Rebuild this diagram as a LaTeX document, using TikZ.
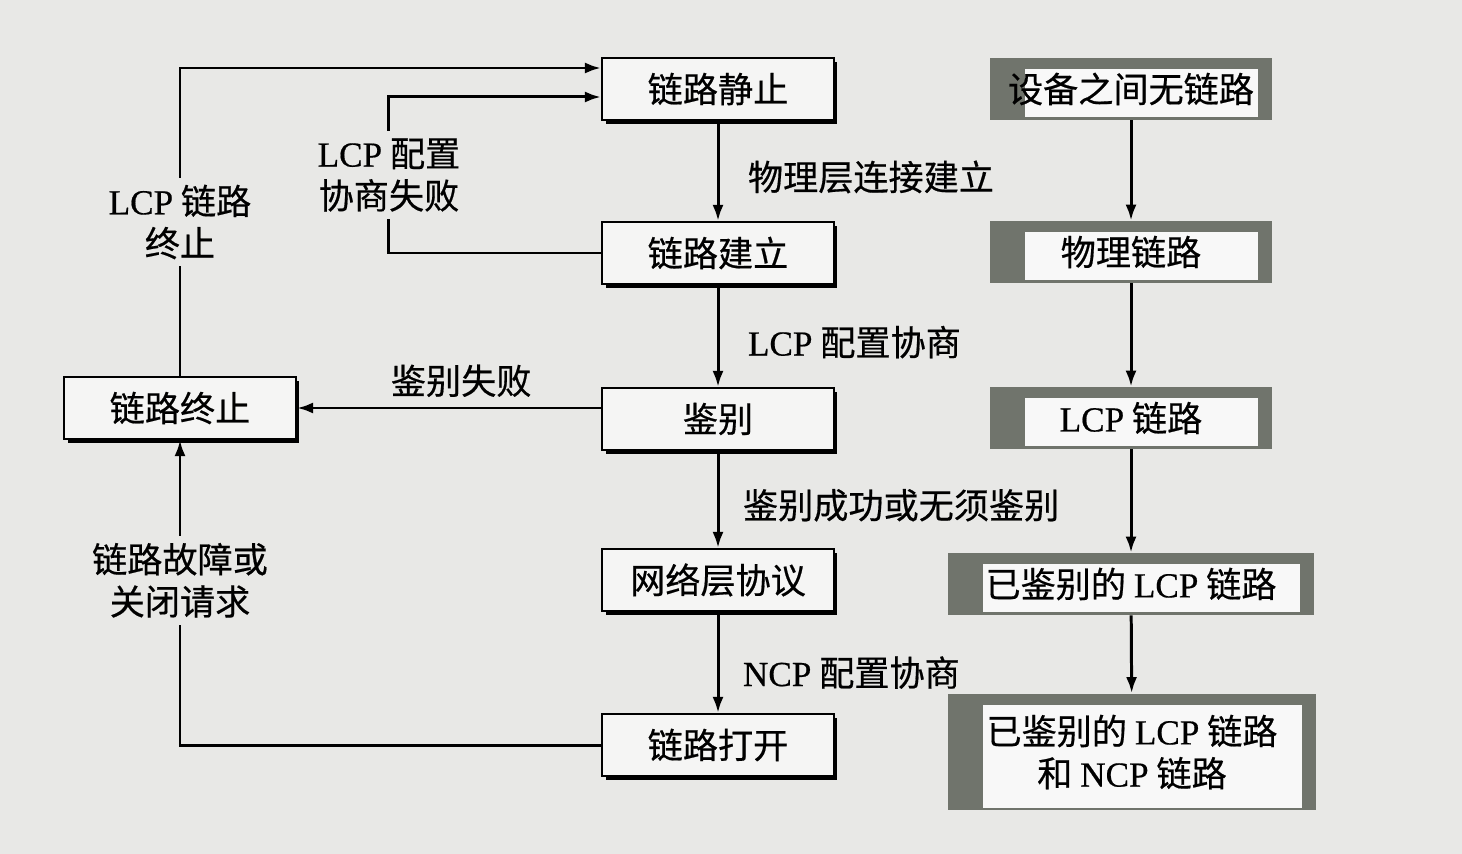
\documentclass[tikz,border=0pt]{standalone}
\usepackage{fontspec}
\setmainfont{Liberation Serif}[FakeBold=0.5]
\newfontfamily\cjk{Noto Sans CJK SC}[FakeBold=0.5]
\usepackage{xcolor}
\usepackage{tikz}
\usetikzlibrary{arrows.meta,calc,shadows}
\definecolor{GrisFondo}{RGB}{232,232,230}
\definecolor{GrisTrama}{RGB}{112,116,108}
\newcommand{\letra}{\cjk\fontsize{20}{24}\selectfont}
\newcommand{\rmtxt}[1]{{\rmfamily #1}}

\begin{document}
\begin{tikzpicture}[x=0.02cm,y=-0.02cm,>={Latex[length=3.2mm,width=2.2mm]},
  txt/.style={font=\letra,align=center},
  caja/.style={txt,draw,line width=1.2pt,fill=white!55!GrisFondo,
    minimum width=4.64cm,minimum height=1.24cm,
    drop shadow={shadow xshift=0.07cm,shadow yshift=-0.08cm,opacity=1,fill=black}},
  trama/.style={txt,fill=GrisTrama,minimum width=5.66cm,minimum height=1.24cm,
    path picture={\fill[white!70!GrisFondo]
      ($(path picture bounding box.south west)+(0.7cm,0.05cm)$) rectangle
      ($(path picture bounding box.north east)+(-0.28cm,-0.22cm)$);}},
  hueco/.style={txt,fill=GrisFondo,inner sep=4pt},
  etq/.style={txt,inner sep=2pt},
  flujo/.style={->,line width=1.7pt}]
  \useasboundingbox (0,0) rectangle (1462,854);
  \fill[GrisFondo] (0,0) rectangle (1462,854);
  % estados del enlace
  \node[caja] (quieto) at (718,89) {链路静止};
  \node[caja] (establ) at (718,253) {链路建立};
  \node[caja] (auth) at (718,419) {鉴别};
  \node[caja] (red) at (718,580) {网络层协议};
  \node[caja] (abierto) at (718,745) {链路打开};
  \node[caja] (termina) at (180,408) {链路终止};
  % columna derecha
  \node[trama] (sin) at (1131,89) {设备之间无链路};
  \node[trama] (fis) at (1131,252) {物理链路};
  \node[trama] (lcp) at (1131,418) {\rmtxt{LCP} 链路};
  \node[trama,minimum width=7.34cm] (aut) at (1131,584) {已鉴别的 \rmtxt{LCP} 链路};
  \node[trama,minimum width=7.38cm,minimum height=2.34cm] (ncp) at (1132,752)
    {已鉴别的 \rmtxt{LCP} 链路\\和 \rmtxt{NCP} 链路};
  \coordinate (q1) at ([yshift=0.42cm]quieto.west);
  \coordinate (q2) at ([yshift=-0.16cm]quieto.west);
  \draw[flujo] (quieto) -- node[etq,pos=0.56,right=0.5cm]{物理层连接建立} (establ);
  \draw[flujo] (establ) -- node[etq,pos=0.56,right=0.5cm]{\rmtxt{LCP} 配置协商} (auth);
  \draw[flujo] (auth) -- node[etq,pos=0.56,right=0.4cm]{鉴别成功或无须鉴别} (red);
  \draw[flujo] (red) -- node[etq,pos=0.6,right=0.4cm]{\rmtxt{NCP} 配置协商} (abierto);
  \draw[flujo] (auth.west |- termina.east) -- node[etq,pos=0.46,above=0.12cm]{鉴别失败} (termina.east);
  \draw[flujo] (termina.north) -- node[hueco]{\rmtxt{LCP} 链路\\终止} (termina.north |- q1) -- (q1);
  \draw[flujo] (establ.west) -- ++(-212,0) coordinate (c2)
    -- node[hueco]{\rmtxt{LCP} 配置\\协商失败} (c2 |- q2) -- (q2);
  \draw[flujo] (abierto.west) -| node[hueco,pos=0.77]{链路故障或\\关闭请求} (termina.south);
  \draw[flujo] (sin) -- (fis);
  \draw[flujo] (fis) -- (lcp);
  \draw[flujo] (lcp) -- (aut);
  \draw[flujo] (aut) -- (ncp);
\end{tikzpicture}
\end{document}
